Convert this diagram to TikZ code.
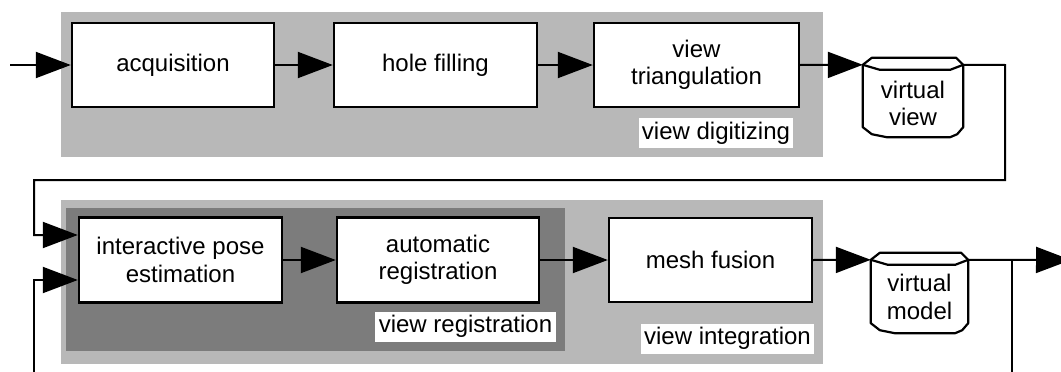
\documentclass[tikz,border=0pt]{standalone}
\usepackage{fontspec}
\setmainfont{Liberation Sans}
\usetikzlibrary{arrows.meta,calc}

\definecolor{stagebg}{RGB}{184,184,184}
\definecolor{subbg}{RGB}{124,124,124}

\tikzset{
  procbox/.style={draw=black, line width=2.4pt, fill=white, rectangle,
    align=center, inner sep=0pt, font=\fontsize{24}{27.5}\selectfont},
  storebody/.style={rectangle, draw=none, inner sep=0pt, align=center,
    font=\fontsize{24}{27.5}\selectfont},
  stagelabel/.style={fill=white, inner xsep=3pt, inner ysep=0pt,
    text height=18pt, text depth=6pt, minimum height=30pt,
    font=\fontsize{24}{27.5}\selectfont},
  flow/.style={draw=black, line width=2pt,
    -{Triangle[length=35pt,width=26pt]}},
}

% outline of a data store (cylinder with faceted ends) around node #1
\newcommand\storeoutline[1]{%
  \draw[line width=2.2pt, fill=white, line join=round]
    ($(#1.north west)+(0,7)$) -- ($(#1.north west)+(9,0)$)
    -- ($(#1.north east)+(-7,0)$) -- ($(#1.north east)+(0,7)$)
    -- ($(#1.south east)+(0,-10)$) -- ($(#1.south east)+(-6,-3)$)
    -- ($(#1.south east)+(-13,0)$) -- ($(#1.south west)+(24,0)$)
    -- ($(#1.south west)+(9,-3)$) -- ($(#1.south west)+(0,-10)$) -- cycle;
  \draw[line width=2.2pt, line join=round]
    ($(#1.north west)+(0,7)$) -- ($(#1.north west)+(17,12)$)
    -- ($(#1.north east)+(-13,12)$) -- ($(#1.north east)+(0,7)$);
  \coordinate (#1-in) at ($(#1.north west)+(0,7)$);
  \coordinate (#1-out) at ($(#1.north east)+(0,7)$);
}

\begin{document}
\begin{tikzpicture}[x=1pt, y=-1pt]
\useasboundingbox (0,0) rectangle (1061,372);
\clip (0,0) rectangle (1061,372);

% stage backgrounds
\fill[stagebg] (61,12) rectangle (823,157);
\fill[stagebg] (61,200) rectangle (823,364);
\fill[subbg] (66,208) rectangle (565,351);

% view digitizing stage
\node[procbox, minimum width=202pt, minimum height=84pt] (acq) at (173,65) {acquisition};
\node[procbox, minimum width=203pt, minimum height=84pt] (hole) at (435.5,65) {hole filling};
\node[procbox, minimum width=205pt, minimum height=84pt] (tri) at (696.5,65) {view\\triangulation};
\node[stagelabel, minimum width=154pt] (lbldig) at (716,133) {view digitizing};

% view integration stage
\node[procbox, minimum width=203pt, minimum height=85pt] (pose) at (180.5,260) {interactive pose\\estimation};
\node[procbox, minimum width=202pt, minimum height=85pt] (auto) at (438,260) {automatic\\registration};
\node[procbox, minimum width=203pt, minimum height=84pt] (fusion) at (710.5,260) {mesh fusion};
\node[stagelabel, minimum width=181pt] (lblreg) at (465.5,326.5) {view registration};
\node[stagelabel, minimum width=171pt] (lblint) at (727.5,338.5) {view integration};

% data stores
\node[storebody, minimum width=100pt, minimum height=79pt] (vview) at (913,97.5) {};
\storeoutline{vview}
\node[storebody] at ($(vview.center)+(0,6)$) {virtual\\view};
\node[storebody, minimum width=97pt, minimum height=80pt] (vmodel) at (919.5,293) {};
\storeoutline{vmodel}
\node[storebody] at ($(vmodel.center)+(0,4)$) {virtual\\model};

% connector end points
\coordinate (src) at (10,65);
\coordinate (in1) at ($(pose.west)+(0,-25)$);
\coordinate (in2) at ($(pose.west)+(0,20)$);
\coordinate (r1) at (1005,65);
\coordinate (r2) at (1005,180);
\coordinate (l1) at (34,180);
\coordinate (tap) at (1012,260);
\coordinate (sink) at (1071,260);
\coordinate (b1) at (1012,390);
\coordinate (b2) at (34,390);

% first row
\draw[flow] (src) -- (acq.west);
\draw[flow] (acq.east) -- (hole.west);
\draw[flow] (hole.east) -- (tri.west);
\draw[flow] (tri.east) -- (vview-in);

% feedback of each new view
\draw[flow] (vview-out) -- (r1) -- (r2) -- (l1) |- (in1);

% second row
\draw[flow] (pose.east) -- (auto.west);
\draw[flow] (auto.east) -- (fusion.west);
\draw[flow] (fusion.east) -- (vmodel-in);
\draw[flow] (vmodel-out) -- (sink);

% feedback of the current model
\draw[flow] (tap) -- (b1) -- (b2) |- (in2);
\end{tikzpicture}
\end{document}
